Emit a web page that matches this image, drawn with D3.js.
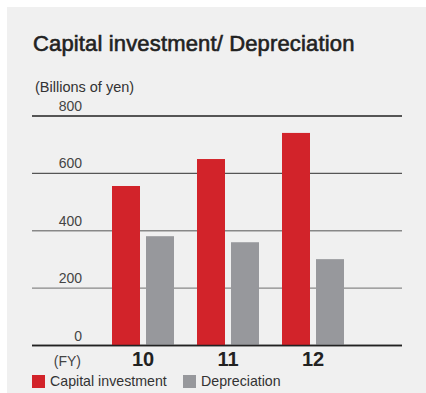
<!DOCTYPE html>
<html>
<head>
<meta charset="utf-8">
<script src="https://cdn.jsdelivr.net/npm/d3@7"></script>
<style>
  html, body { margin: 0; padding: 0; background: #ffffff; }
  svg { display: block; font-family: "Liberation Sans", Arial, sans-serif; }
</style>
</head>
<body>
<div id="chart"></div>
<script>
// Chart data
const years = ["10", "11", "12"];
const capitalInvestment = [556, 650, 741];
const depreciation = [381, 360, 301];
const yTicks = [0, 200, 400, 600, 800];
const seriesNames = ["Capital investment", "Depreciation"];
const seriesColors = ["#d2232a", "#97989c"];

const W = 426, H = 393;

const svg = d3.select("#chart").append("svg")
    .attr("width", W)
    .attr("height", H);

// Panel background
svg.append("rect")
    .attr("x", 7).attr("y", 7)
    .attr("width", W - 7).attr("height", H - 7)
    .attr("fill", "#f0f0f0");

// Title (medium weight look: regular + thin stroke)
svg.append("text")
    .attr("x", 33).attr("y", 51)
    .attr("font-size", 22)
    .attr("fill", "#222")
    .attr("stroke", "#222")
    .attr("stroke-width", 0.6)
    .style("letter-spacing", "0.15px")
    .text("Capital investment/ Depreciation");

svg.append("text")
    .attr("x", 35).attr("y", 92)
    .attr("font-size", 14.5)
    .attr("fill", "#333")
    .text("(Billions of yen)");

// Scales
const yScale = d3.scaleLinear()
    .domain([0, 800])
    .range([345.5, 116]);

const groupScale = d3.scalePoint()
    .domain(years)
    .range([143, 313]);

const barW = 28, gap = 6;

// Gridlines
const gridColor = d => (d === 0 || d === 800) ? "#222" : (d === 600 ? "#555" : "#888");
svg.append("g")
    .selectAll("line")
    .data(yTicks)
    .enter()
    .append("line")
    .attr("x1", 32).attr("x2", 402)
    .attr("y1", d => yScale(d)).attr("y2", d => yScale(d))
    .attr("stroke", gridColor)
    .attr("stroke-width", 1.3);

// Tick labels
svg.append("g")
    .selectAll("text")
    .data(yTicks)
    .enter()
    .append("text")
    .attr("x", 82)
    .attr("y", d => yScale(d) - 5)
    .attr("text-anchor", "end")
    .attr("font-size", 14)
    .attr("fill", "#444")
    .text(d => d);

// Bars
const series = [capitalInvestment, depreciation];
series.forEach((vals, si) => {
    svg.append("g")
        .selectAll("rect")
        .data(vals)
        .enter()
        .append("rect")
        .attr("x", (d, i) => groupScale(years[i]) - barW - gap / 2 + si * (barW + gap))
        .attr("y", d => yScale(d))
        .attr("width", barW)
        .attr("height", d => yScale(0) - yScale(d))
        .attr("fill", seriesColors[si]);
});

// Redraw baseline on top
svg.append("line")
    .attr("x1", 32).attr("x2", 402)
    .attr("y1", yScale(0)).attr("y2", yScale(0))
    .attr("stroke", "#222")
    .attr("stroke-width", 1.3);

// X labels
svg.append("text")
    .attr("x", 81).attr("y", 366)
    .attr("text-anchor", "end")
    .attr("font-size", 14)
    .attr("fill", "#444")
    .text("(FY)");

svg.append("g")
    .selectAll("text")
    .data(years)
    .enter()
    .append("text")
    .attr("x", d => groupScale(d))
    .attr("y", 366)
    .attr("text-anchor", "middle")
    .attr("font-size", 20)
    .attr("font-weight", "bold")
    .attr("fill", "#222")
    .text(d => d);

// Legend
const legendX = [32, 183];
seriesNames.forEach((name, i) => {
    svg.append("rect")
        .attr("x", legendX[i]).attr("y", 375)
        .attr("width", 13).attr("height", 13)
        .attr("fill", seriesColors[i]);
    svg.append("text")
        .attr("x", legendX[i] + 18).attr("y", 386)
        .attr("font-size", 14.2)
        .attr("fill", "#333")
        .text(name);
});
</script>
</body>
</html>
